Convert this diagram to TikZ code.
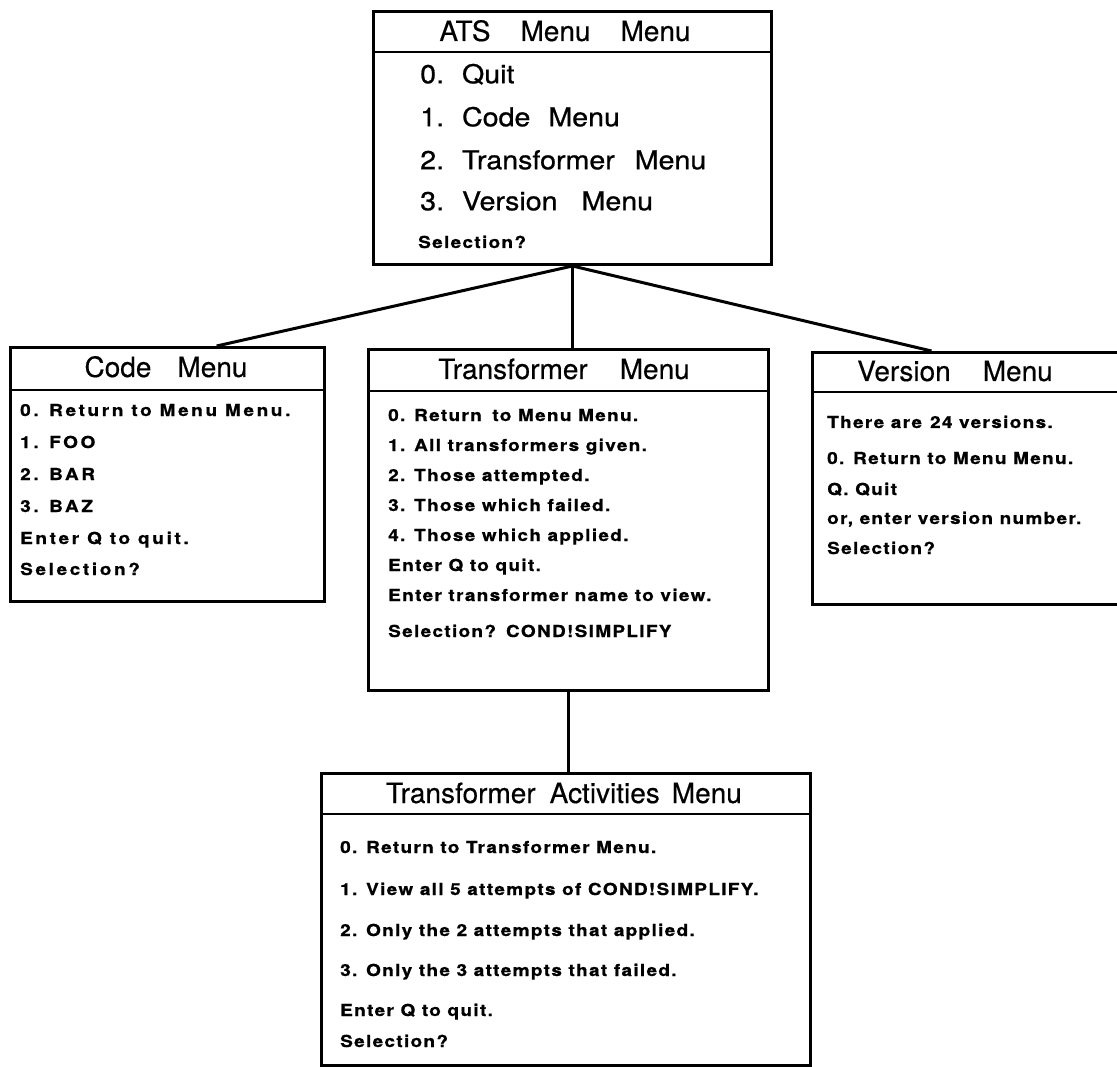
\documentclass[tikz,border=0pt]{standalone}
\usepackage{fontspec}
\setmainfont{TeX Gyre Heros}
\newfontfamily\hfont[FakeBold=0.4]{TeX Gyre Heros}
\newfontfamily\afont[FakeStretch=1.1,FakeBold=0.8]{TeX Gyre Heros}
\newfontfamily\bfont[FakeStretch=1.15,LetterSpace=8,FakeBold=0.8]{TeX Gyre Heros}
\newfontfamily\cfont[FakeStretch=1.15,LetterSpace=16,FakeBold=0.8]{TeX Gyre Heros}
\usetikzlibrary{calc}
\begin{document}
\begin{tikzpicture}[x=1pt,y=-1pt]
\tikzset{
 menubox/.style={draw, line width=3pt, inner sep=0pt, anchor=north west},
 divider/.style={line width=2.6pt},
 link/.style={line width=3pt},
 head/.style={font=\hfont\fontsize{28}{28}\selectfont, inner sep=0pt, text height=20pt, text depth=0pt, anchor=center},
 big/.style={font=\afont\fontsize{26}{26}\selectfont, inner sep=0pt, anchor=west, text height=18.5pt, text depth=0pt},
 itm/.style={font=\bfont\bfseries\fontsize{16.5}{16.5}\selectfont, inner sep=0pt, anchor=west, text height=12pt, text depth=0pt},
 citm/.style={itm, font=\cfont\bfseries\fontsize{16.5}{16.5}\selectfont},
}
\useasboundingbox (0,0) rectangle (1117,1067);
\clip (0,0) rectangle (1117,1067);

% boxes
\node[menubox, minimum width=398pt, minimum height=253pt] (ats) at (372,10) {};
\node[menubox, minimum width=314pt, minimum height=254pt] (code) at (9,346) {};
\node[menubox, minimum width=400pt, minimum height=341pt] (trans) at (367,348) {};
\node[menubox, minimum width=314pt, minimum height=252pt] (ver) at (811,351) {};
\node[menubox, minimum width=489pt, minimum height=292pt] (tam) at (320,772) {};

% header dividers
\draw[divider] ($(ats.north west)+(0,42)$) -- ($(ats.north east)+(0,42)$);
\draw[divider] ($(code.north west)+(0,44)$) -- ($(code.north east)+(0,44)$);
\draw[divider] ($(trans.north west)+(0,43)$) -- ($(trans.north east)+(0,43)$);
\draw[divider] ($(ver.north west)+(0,41)$) -- ($(ver.north east)+(0,41)$);
\draw[divider] ($(tam.north west)+(0,42)$) -- ($(tam.north east)+(0,42)$);

% connectors
\draw[link] (ats.south) -- ($(code.north west)!0.655!(code.north east)$);
\draw[link] (ats.south) -- (ats.south |- trans.north);
\draw[link] (ats.south) -- ($(ver.north west)!0.38!(ver.north east)$);
\draw[link] (trans.south) -- (trans.south |- tam.north);

% headers
\node[head] (atsh) at (565,31) {ATS\hspace{30pt}Menu\hspace{30pt}Menu};
\node[head] (codeh) at (166,367) {Code\hspace{26pt}Menu};
\node[head] (transh) at (564,369) {Transformer\hspace{32pt}Menu};
\node[head] (verh) at (955,371) {Version\hspace{32pt}Menu};
\node[head] (tamh) at (564,793) {Transformer\hspace{14pt}Activities\hspace{12pt}Menu};

% ATS items
\node[big] (a0) at (420,74) {0.\hspace{18pt}Quit};
\node[big] (a1) at (420,117) {1.\hspace{18pt}Code\hspace{18pt}Menu};
\node[big] (a2) at (420,160) {2.\hspace{18pt}Transformer\hspace{20pt}Menu};
\node[big] (a3) at (420,201) {3.\hspace{18pt}Version\hspace{24pt}Menu};
\node[itm] (a4) at (418,242) {Selection?};

% Code items
\foreach \yy/\tt [count=\i] in {410/{0. Return to Menu Menu.}, 442/{1. FOO}, 474/{2. BAR}, 506/{3. BAZ}, 538/{Enter Q to quit.}, 569/{Selection?}}
  \node[citm] (c\i) at (20,\yy) {\tt};

% Transformer items
\foreach \yy/\tt [count=\i] in {415/{0. Return\hspace{4pt} to Menu Menu.}, 445/{1. All transformers given.}, 475/{2. Those attempted.}, 505/{3. Those which failed.}, 535/{4. Those which applied.}, 565/{Enter Q to quit.}, 595/{Enter transformer name to view.}, 631/{Selection?\hspace{10pt}COND!SIMPLIFY}}
  \node[itm] (t\i) at (388,\yy) {\tt};

% Version items
\foreach \yy/\tt [count=\i] in {422/{There are\hspace{8pt}24 versions.}, 458/{0. Return to Menu Menu.}, 489/{Q. Quit}, 518/{or, enter version number.}, 548/{Selection?}}
  \node[itm] (v\i) at (827,\yy) {\tt};

% Transformer Activities items
\foreach \yy/\tt [count=\i] in {847/{0. Return to Transformer Menu.}, 889/{1. View all 5 attempts of COND!SIMPLIFY.}, 930/{2. Only the 2 attempts that applied.}, 970/{3. Only the 3 attempts that failed.}, 1010/{Enter Q to quit.}, 1041/{Selection?}}
  \node[itm] (m\i) at (340,\yy) {\tt};
\end{tikzpicture}
\end{document}
